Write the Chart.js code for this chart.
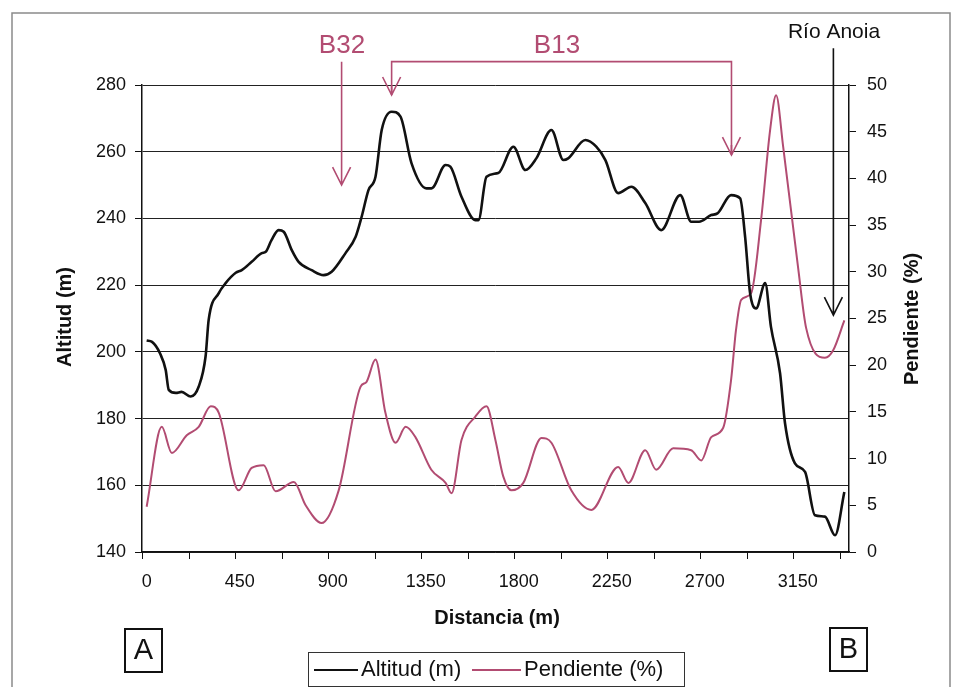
<!DOCTYPE html>
<html>
<head>
<meta charset="utf-8">
<script src="https://cdn.jsdelivr.net/npm/chart.js@4.4.1/dist/chart.umd.min.js"></script>
<style>
  html, body { margin: 0; padding: 0; background: #fff; }
  #wrap { width: 958px; height: 687px; position: relative; }
</style>
</head>
<body>
<div id="wrap"><canvas id="perfil" width="958" height="687"></canvas></div>
<script>
var altDist = [0, 26, 65, 92, 107, 141, 169, 213, 252, 285, 300, 349, 382, 431, 460, 508, 557, 576, 604, 638, 663, 702, 735, 798, 856, 895, 962, 1011, 1040, 1073, 1107, 1137, 1185, 1228, 1281, 1354, 1378, 1446, 1469, 1523, 1590, 1605, 1644, 1701, 1774, 1832, 1885, 1958, 2016, 2039, 2122, 2175, 2219, 2281, 2345, 2412, 2489, 2581, 2634, 2672, 2731, 2761, 2827, 2871, 2895, 2919, 2948, 2992, 3020, 3064, 3088, 3136, 3185, 3233, 3281, 3330, 3375];
var altVal = [203.4, 203, 199.5, 194.6, 188.6, 187.7, 188, 186.6, 189.6, 198.6, 209.6, 217.6, 220.6, 223.7, 224.5, 227, 229.6, 230, 233.5, 236.5, 236, 230.5, 227, 224.5, 223, 224, 229.6, 234.5, 240.5, 248.5, 252.5, 266.5, 272, 270.5, 256.6, 249, 249, 256, 255.5, 246.5, 239.5, 239.5, 252.5, 253.6, 261.5, 254.5, 258, 266.5, 257.5, 258, 263.5, 261.5, 257.5, 247.6, 249.5, 244.6, 236.5, 247, 239, 239, 241, 241.5, 247, 246, 234.5, 217.6, 213, 220.6, 207.5, 193.6, 178.6, 166.6, 164, 151, 150.6, 145, 158];

var pendDist = [0, 73, 122, 194, 252, 310, 349, 445, 508, 566, 624, 712, 769, 846, 929, 1035, 1063, 1107, 1155, 1204, 1253, 1300, 1377, 1446, 1475, 1523, 1590, 1644, 1687, 1725, 1765, 1822, 1910, 1958, 2054, 2151, 2281, 2330, 2412, 2465, 2547, 2634, 2683, 2731, 2789, 2827, 2851, 2876, 2924, 2972, 3016, 3045, 3079, 3151, 3190, 3281, 3321, 3375];
var pendVal = [4.85, 13.4, 10.6, 12.5, 13.4, 15.6, 14.9, 6.6, 9, 9.3, 6.5, 7.5, 5, 3.1, 6.6, 17.7, 18.2, 20.6, 14.9, 11.7, 13.4, 12.3, 8.8, 7.4, 6.3, 12, 14.5, 15.6, 12, 8.1, 6.6, 7.4, 12.2, 11.7, 6.6, 4.5, 9.1, 7.4, 10.9, 8.8, 11.1, 10.9, 9.8, 12.3, 13.3, 18.4, 23.8, 27, 27.7, 35.5, 45.2, 48.9, 43.4, 30.5, 24, 20.8, 21.6, 24.8];

var xTicks = [0, 450, 900, 1350, 1800, 2250, 2700, 3150];
var xMinorTicks = [-22.5, 202.5, 427.5, 652.5, 877.5, 1102.5, 1327.5, 1552.5, 1777.5, 2002.5, 2227.5, 2452.5, 2677.5, 2902.5, 3127.5, 3352.5];

var ROSA = "#b24c72";
var FUENTE = "'Liberation Sans', Arial, sans-serif";

function pares(xs, ys) {
  var out = [];
  for (var i = 0; i < xs.length; i++) out.push({ x: xs[i], y: ys[i] });
  return out;
}

// >>>>>>>>>> Flecha vertical con punta en V
function flecha(ctx, x, y0, y1, color) {
  ctx.save();
  ctx.strokeStyle = color;
  ctx.lineWidth = 1.6;
  ctx.beginPath();
  ctx.moveTo(x, y0);
  ctx.lineTo(x, y1);
  ctx.moveTo(x - 9, y1 - 18);
  ctx.lineTo(x, y1);
  ctx.lineTo(x + 9, y1 - 18);
  ctx.stroke();
  ctx.restore();
}

var extras = {
  id: "extras",
  afterDraw: function (chart) {
    var ctx = chart.ctx;
    var xs = chart.scales.x, yl = chart.scales.yAlt;
    var area = chart.chartArea;

    // marco exterior
    ctx.save();
    ctx.strokeStyle = "#8a8a8a";
    ctx.lineWidth = 1.5;
    ctx.strokeRect(12, 13, 938, 690);

    // marcas del eje x
    ctx.strokeStyle = "#111";
    ctx.lineWidth = 1;
    ctx.beginPath();
    xMinorTicks.forEach(function (v) {
      var px = Math.round(xs.getPixelForValue(v)) + 0.5;
      ctx.moveTo(px, area.bottom);
      ctx.lineTo(px, area.bottom + 7);
    });
    ctx.stroke();

    // titulos de ejes
    ctx.fillStyle = "#111";
    ctx.font = "bold 20px " + FUENTE;
    ctx.textAlign = "center";
    ctx.textBaseline = "middle";
    ctx.fillText("Distancia (m)", 497, 618);
    ctx.save();
    ctx.translate(65, 317);
    ctx.rotate(-Math.PI / 2);
    ctx.fillText("Altitud (m)", 0, 0);
    ctx.restore();
    ctx.save();
    ctx.translate(912, 319);
    ctx.rotate(-Math.PI / 2);
    ctx.fillText("Pendiente (%)", 0, 0);
    ctx.restore();

    // anotaciones B32, B13, Rio Anoia
    var xB32 = xs.getPixelForValue(943);
    var xB13a = xs.getPixelForValue(1185);
    var xB13b = xs.getPixelForValue(2829);
    var xRio = xs.getPixelForValue(3322);
    var yTop = yl.getPixelForValue(287);

    ctx.font = "26px " + FUENTE;
    ctx.fillStyle = ROSA;
    ctx.fillText("B32", 342, 46);
    ctx.fillText("B13", 557, 46);
    flecha(ctx, xB32, yTop, yl.getPixelForValue(250), ROSA);

    ctx.strokeStyle = ROSA;
    ctx.lineWidth = 1.6;
    ctx.beginPath();
    ctx.moveTo(xB13a, yl.getPixelForValue(277));
    ctx.lineTo(xB13a, yTop);
    ctx.lineTo(xB13b, yTop);
    ctx.lineTo(xB13b, yl.getPixelForValue(259));
    ctx.stroke();
    flecha(ctx, xB13a, yl.getPixelForValue(280), yl.getPixelForValue(277), ROSA);
    flecha(ctx, xB13b, yl.getPixelForValue(262), yl.getPixelForValue(259), ROSA);

    ctx.fillStyle = "#111";
    ctx.font = "21px " + FUENTE;
    ctx.fillText("Río Anoia", 834, 32);
    flecha(ctx, xRio, yl.getPixelForValue(291), yl.getPixelForValue(211), "#111");

    // cajas A y B
    ctx.lineWidth = 2;
    ctx.strokeStyle = "#111";
    ctx.strokeRect(125, 629, 37, 43);
    ctx.strokeRect(830, 628, 37, 43);
    ctx.font = "29px " + FUENTE;
    ctx.fillText("A", 143.5, 651);
    ctx.fillText("B", 848.5, 650);

    // leyenda
    ctx.lineWidth = 1;
    ctx.strokeStyle = "#333";
    ctx.strokeRect(308.5, 652.5, 376, 34);
    ctx.font = "22px " + FUENTE;
    ctx.textAlign = "left";
    var items = chart.data.datasets;
    var lx = [314, 472];
    var lw = [44, 49];
    items.forEach(function (ds, i) {
      ctx.strokeStyle = ds.borderColor;
      ctx.lineWidth = 2;
      ctx.beginPath();
      ctx.moveTo(lx[i], 670);
      ctx.lineTo(lx[i] + lw[i], 670);
      ctx.stroke();
      ctx.fillStyle = "#111";
      ctx.fillText(ds.label, lx[i] + lw[i] + 3, 670);
    });
    ctx.restore();
  }
};

new Chart("perfil", {
  type: "line",
  data: {
    datasets: [
      {
        label: "Altitud (m)",
        data: pares(altDist, altVal),
        borderColor: "#111",
        borderWidth: 2.6,
        pointRadius: 0,
        cubicInterpolationMode: "monotone",
        yAxisID: "yAlt",
        fill: false
      },
      {
        label: "Pendiente (%)",
        data: pares(pendDist, pendVal),
        borderColor: ROSA,
        borderWidth: 2,
        pointRadius: 0,
        cubicInterpolationMode: "monotone",
        yAxisID: "yPend",
        fill: false
      }
    ]
  },
  options: {
    responsive: false,
    animation: false,
    layout: { padding: { top: 85, left: 0, right: 0, bottom: 0 } },
    plugins: { legend: { display: false }, tooltip: { enabled: false } },
    scales: {
      x: {
        type: "linear",
        min: -22.5,
        max: 3397.5,
        afterBuildTicks: function (axis) {
          axis.ticks = xTicks.map(function (v) { return { value: v }; });
        },
        afterFit: function (axis) { axis.height = 135; },
        grid: { drawOnChartArea: false, drawTicks: true, tickLength: 8, tickColor: "rgba(0,0,0,0)" },
        border: { color: "#111", width: 1.5 },
        ticks: {
          padding: 11, maxRotation: 0, autoSkip: false, color: "#111",
          font: { family: FUENTE, size: 18 },
          callback: function (v) { return String(v); }
        }
      },
      yAlt: {
        type: "linear",
        position: "left",
        min: 140,
        max: 280,
        afterFit: function (axis) { axis.width = 142; },
        ticks: { stepSize: 20, padding: 9, color: "#111", font: { family: FUENTE, size: 18 } },
        grid: { color: "#222", lineWidth: 1, tickLength: 7, tickColor: "#111" },
        border: { color: "#111", width: 1.5 }
      },
      yPend: {
        type: "linear",
        position: "right",
        min: 0,
        max: 50,
        afterFit: function (axis) { axis.width = 109; },
        ticks: { stepSize: 5, padding: 11, color: "#111", font: { family: FUENTE, size: 18 } },
        grid: { drawOnChartArea: false, tickLength: 7, tickColor: "#111" },
        border: { color: "#111", width: 1.5 }
      }
    }
  },
  plugins: [extras]
});
</script>
</body>
</html>
